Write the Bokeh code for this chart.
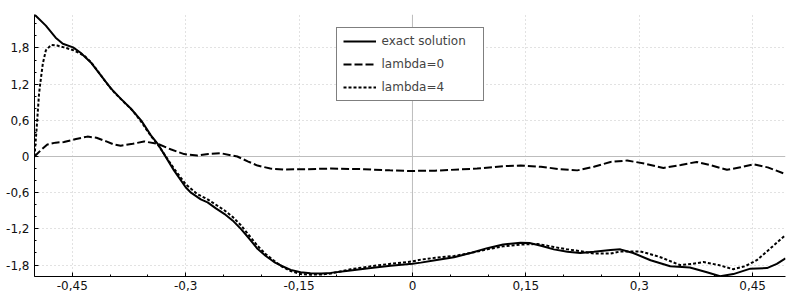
from bokeh.plotting import figure
from bokeh.models import Range1d, FixedTicker, Span, Legend, LegendItem
from bokeh.embed import file_html
from bokeh.resources import INLINE

# exact solution
x_exact = [-0.5, -0.485, -0.472, -0.4625, -0.449, -0.439, -0.4255, -0.412, -0.399, -0.386,
           -0.373, -0.359, -0.346, -0.337, -0.3155, -0.300, -0.293, -0.280, -0.271, -0.260,
           -0.249, -0.238, -0.227, -0.216, -0.205, -0.194, -0.183, -0.172, -0.161, -0.148,
           -0.135, -0.120, -0.108, -0.082, -0.055, -0.029, 0.0, 0.011, 0.030, 0.055,
           0.077, 0.099, 0.120, 0.143, 0.155, 0.170, 0.187, 0.205, 0.222, 0.240,
           0.262, 0.275, 0.292, 0.315, 0.341, 0.367, 0.3895, 0.407, 0.4245, 0.447,
           0.469, 0.482, 0.4935]
y_exact = [2.355, 2.17, 1.97, 1.87, 1.81, 1.72, 1.56, 1.34, 1.13, 0.96,
           0.80, 0.60, 0.35, 0.21, -0.23, -0.51, -0.60, -0.71, -0.76, -0.86,
           -0.95, -1.06, -1.20, -1.36, -1.53, -1.65, -1.75, -1.82, -1.88, -1.92,
           -1.935, -1.94, -1.93, -1.89, -1.85, -1.81, -1.78, -1.76, -1.72, -1.67,
           -1.60, -1.52, -1.46, -1.43, -1.435, -1.48, -1.54, -1.58, -1.60, -1.58,
           -1.55, -1.54, -1.60, -1.72, -1.82, -1.84, -1.92, -1.985, -1.95, -1.86,
           -1.85, -1.78, -1.69]

# lambda=0
x_l0 = [-0.5, -0.492, -0.483, -0.472, -0.461, -0.445, -0.430, -0.418, -0.405, -0.395,
        -0.386, -0.370, -0.355, -0.337, -0.320, -0.302, -0.2845, -0.270, -0.254, -0.2317,
        -0.218, -0.205, -0.188, -0.170, -0.140, -0.108, -0.064, -0.030, -0.007, 0.030,
        0.0855, 0.120, 0.143, 0.170, 0.195, 0.218, 0.240, 0.262, 0.284, 0.308,
        0.332, 0.355, 0.376, 0.396, 0.416, 0.434, 0.451, 0.470, 0.491]
y_l0 = [0.0, 0.10, 0.20, 0.23, 0.24, 0.29, 0.33, 0.31, 0.25, 0.20,
        0.18, 0.21, 0.25, 0.21, 0.12, 0.04, 0.017, 0.04, 0.055, 0.0,
        -0.08, -0.15, -0.20, -0.215, -0.21, -0.20, -0.21, -0.23, -0.24, -0.235,
        -0.20, -0.16, -0.15, -0.17, -0.21, -0.23, -0.17, -0.09, -0.066, -0.12,
        -0.19, -0.14, -0.09, -0.15, -0.22, -0.18, -0.13, -0.18, -0.28]

# lambda=4
x_l4 = [-0.5, -0.497, -0.494, -0.4915, -0.489, -0.485, -0.478, -0.470, -0.461, -0.448,
        -0.434, -0.425, -0.417, -0.406, -0.395, -0.3815, -0.370, -0.359, -0.346, -0.337,
        -0.3155, -0.300, -0.285, -0.271, -0.260, -0.249, -0.238, -0.227, -0.216, -0.205,
        -0.194, -0.183, -0.172, -0.161, -0.148, -0.135, -0.120, -0.108, -0.082, -0.055,
        -0.029, 0.0, 0.011, 0.030, 0.055, 0.077, 0.099, 0.120, 0.143, 0.165,
        0.187, 0.205, 0.222, 0.240, 0.262, 0.275, 0.301, 0.315, 0.328, 0.354,
        0.370, 0.385, 0.405, 0.4245, 0.440, 0.4555, 0.4775, 0.4935]
y_l4 = [0.0, 0.5, 1.04, 1.30, 1.54, 1.76, 1.85, 1.84, 1.81, 1.76,
        1.67, 1.56, 1.43, 1.24, 1.07, 0.90, 0.76, 0.58, 0.34, 0.20,
        -0.20, -0.46, -0.62, -0.71, -0.80, -0.89, -1.00, -1.14, -1.31, -1.48,
        -1.62, -1.73, -1.83, -1.90, -1.95, -1.96, -1.955, -1.94, -1.87, -1.82,
        -1.78, -1.74, -1.71, -1.68, -1.65, -1.60, -1.54, -1.49, -1.46, -1.45,
        -1.50, -1.54, -1.57, -1.61, -1.61, -1.575, -1.575, -1.62, -1.67, -1.80,
        -1.78, -1.75, -1.80, -1.87, -1.82, -1.72, -1.48, -1.30]

x_ticks = [-0.45, -0.3, -0.15, 0, 0.15, 0.3, 0.45]
x_tick_labels = ["-0,45", "-0,3", "-0,15", "0", "0,15", "0,3", "0,45"]
x_minor = [-0.5, -0.4, -0.35, -0.25, -0.2, -0.1, -0.05, 0.05, 0.1, 0.2, 0.25, 0.35, 0.4]
y_ticks = [-1.8, -1.2, -0.6, 0, 0.6, 1.2, 1.8]
y_tick_labels = ["-1,8", "-1,2", "-0,6", "0", "0,6", "1,2", "1,8"]
y_minor = [-1.6, -1.4, -1.0, -0.8, -0.4, -0.2, 0.2, 0.4, 0.8, 1.0, 1.4, 1.6, 2.0, 2.2]

p = figure(width=792, height=298, output_backend="svg", toolbar_location=None,
           x_range=Range1d(-0.5, 0.4935), y_range=Range1d(-1.99, 2.355),
           min_border_left=34, min_border_right=7, min_border_top=14, min_border_bottom=22)
p.outline_line_color = None
p.background_fill_color = "white"

p.xaxis.ticker = FixedTicker(ticks=x_ticks, minor_ticks=x_minor)
p.yaxis.ticker = FixedTicker(ticks=y_ticks, minor_ticks=y_minor)
p.xaxis.major_label_overrides = {t: l for t, l in zip(x_ticks, x_tick_labels)}
p.yaxis.major_label_overrides = {t: l for t, l in zip(y_ticks, y_tick_labels)}

for ax in (p.xaxis, p.yaxis):
    ax.major_tick_in = 4
    ax.major_tick_out = 0
    ax.minor_tick_in = 2
    ax.minor_tick_out = 0
    ax.axis_line_color = "black"
    ax.axis_line_width = 1
    ax.major_tick_line_color = "black"
    ax.minor_tick_line_color = "black"
    ax.major_label_text_font = "DejaVu Sans"
    ax.major_label_text_font_size = "12px"
    ax.major_label_text_color = "#111111"
p.yaxis.major_label_standoff = 5
p.xaxis.major_label_standoff = 4

for g in (p.xgrid, p.ygrid):
    g.grid_line_color = "#c4c4c4"
    g.grid_line_dash = "1 3"
    g.grid_line_width = 1

p.add_layout(Span(location=0, dimension="height", line_color="#bdbdbd", line_width=1, level="underlay"))
p.add_layout(Span(location=0, dimension="width", line_color="#bdbdbd", line_width=1, level="underlay"))

r1 = p.line(x_exact, y_exact, line_color="black", line_width=2)
r2 = p.line(x_l0, y_l0, line_color="black", line_width=2, line_dash="8 3")
r3 = p.line(x_l4, y_l4, line_color="black", line_width=2, line_dash="3 2")

legend = Legend(items=[LegendItem(label="exact solution", renderers=[r1]),
                       LegendItem(label="lambda=0", renderers=[r2]),
                       LegendItem(label="lambda=4", renderers=[r3])],
                location="top_center", margin=13, padding=6, spacing=9,
                glyph_width=33, glyph_height=14, label_height=14, label_width=95,
                label_standoff=6,
                label_text_font="DejaVu Sans", label_text_font_size="12px",
                border_line_color="black", border_line_width=1,
                background_fill_color="white", background_fill_alpha=1)
p.add_layout(legend, "center")

open("out.html", "w").write(file_html(p, INLINE))
